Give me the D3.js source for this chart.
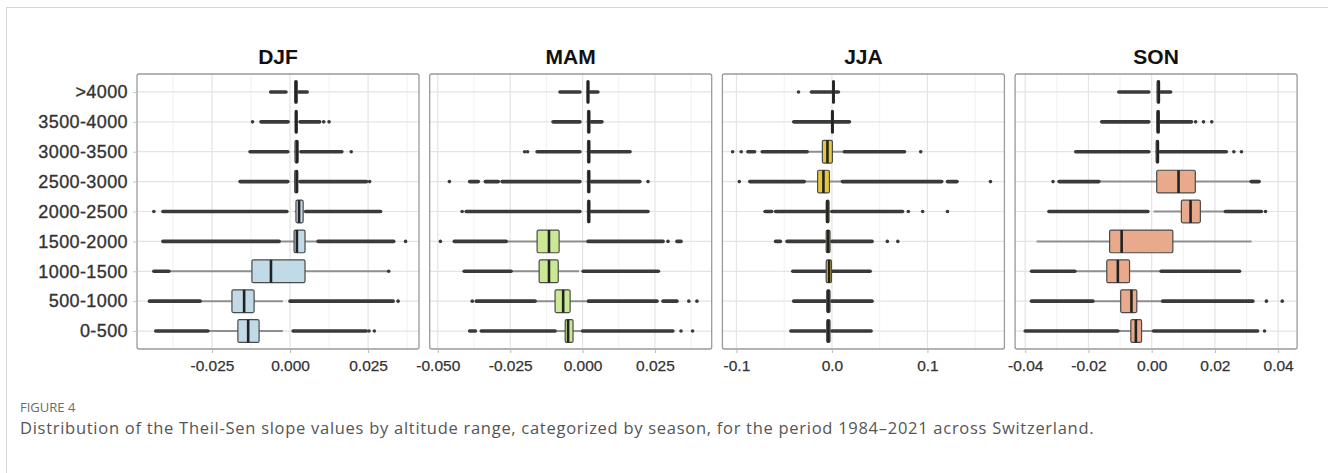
<!DOCTYPE html>
<html>
<head>
<meta charset="utf-8">
<script src="https://cdn.jsdelivr.net/npm/d3@7"></script>
<style>
  body { margin: 0; background: #fff; }
  svg { display: block; }
</style>
</head>
<body>
<svg id="chart" width="1328" height="473"></svg>
<script>
// altitude classes, top to bottom
var categories = [">4000", "3500-4000", "3000-3500", "2500-3000", "2000-2500", "1500-2000", "1000-1500", "500-1000", "0-500"];
var seasons = ["DJF", "MAM", "JJA", "SON"];

// box stats per class: [lower whisker, q1, median, q3, upper whisker]
var djfStats = [
  [0.0013, 0.0015, 0.0019, 0.0023, 0.0026],
  [0.0014, 0.0016, 0.0020, 0.0023, 0.0026],
  [0.0013, 0.0016, 0.0022, 0.0026, 0.0030],
  [0.0012, 0.0015, 0.0021, 0.0025, 0.0029],
  [0.0015, 0.0019, 0.0029, 0.0042, 0.0046],
  [-0.0035, 0.0013, 0.0022, 0.0048, 0.0090],
  [-0.0388, -0.0122, -0.0061, 0.0048, 0.0314],
  [-0.0288, -0.0186, -0.0147, -0.0115, -0.0023],
  [-0.0263, -0.0167, -0.0134, -0.0099, -0.0023]
];
// dense runs of outliers [from, to]
var djfRuns = [
  [[-0.0062, -0.0013], [0.0027, 0.0055]],
  [[-0.0093, -0.0006], [0.0032, 0.0095]],
  [[-0.0128, -0.0007], [0.0035, 0.0166]],
  [[-0.0160, -0.0007], [0.0032, 0.0245]],
  [[-0.0407, -0.0010], [0.0050, 0.0290]],
  [[-0.0407, -0.0035], [0.0090, 0.0332]],
  [[-0.0436, -0.0388]],
  [[-0.0450, -0.0288], [0.0000, 0.0330]],
  [[-0.0430, -0.0263], [0.0010, 0.0244]]
];
var djfDots = [[], [-0.012, 0.0108, 0.0125], [0.0196], [0.0255], [-0.0436], [0.037], [0.0316], [0.0346], [0.0253, 0.027]];

var mamStats = [
  [0.0012, 0.0015, 0.0019, 0.0022, 0.0025],
  [0.0014, 0.0017, 0.0022, 0.0025, 0.0028],
  [0.0014, 0.0017, 0.0022, 0.0025, 0.0028],
  [0.0014, 0.0017, 0.0022, 0.0025, 0.0028],
  [0.0014, 0.0017, 0.0022, 0.0025, 0.0028],
  [-0.0264, -0.0157, -0.0116, -0.0081, 0.0019],
  [-0.0247, -0.0150, -0.0116, -0.0084, -0.0012],
  [-0.0164, -0.0095, -0.0067, -0.0043, 0.0014],
  [-0.0095, -0.0060, -0.0050, -0.0033, 0.0000]
];
var mamRuns = [
  [[-0.0078, -0.0009], [0.0026, 0.0053]],
  [[-0.0102, -0.0009], [0.0030, 0.0067]],
  [[-0.0157, -0.0009], [0.0030, 0.0164]],
  [[-0.0390, -0.0360], [-0.0336, -0.0291], [-0.0278, -0.0009], [0.0030, 0.0198]],
  [[-0.0402, -0.0009], [0.0030, 0.0226]],
  [[-0.0443, -0.0264], [0.0019, 0.0278], [0.0326, 0.0340]],
  [[-0.0409, -0.0247], [0.0002, 0.0257]],
  [[-0.0367, -0.0164], [0.0020, 0.0257], [0.0278, 0.0326]],
  [[-0.0390, -0.0370], [-0.0350, -0.0095], [0.0000, 0.0312]]
];
var mamDots = [[], [], [-0.020, -0.019], [-0.046, 0.0226], [-0.0416], [-0.0491, 0.0295], [0.0262], [-0.0381, 0.0367, 0.0395], [0.034, 0.038]];

var jjaStats = [
  [0.0000, 0.0008, 0.0016, 0.0025, 0.0035],
  [-0.0010, -0.0005, 0.0005, 0.0015, 0.0025],
  [-0.0260, -0.0100, -0.0047, 0.0005, 0.0130],
  [-0.0290, -0.0150, -0.0089, -0.0026, 0.0110],
  [-0.0068, -0.0060, -0.0047, -0.0030, 0.0000],
  [-0.0080, -0.0060, -0.0040, -0.0020, 0.0000],
  [-0.0060, -0.0060, -0.0030, -0.0005, 0.0000],
  [-0.0060, -0.0055, -0.0037, -0.0020, 0.0000],
  [-0.0060, -0.0055, -0.0037, -0.0020, 0.0000]
];
var jjaRuns = [
  [[-0.0215, 0.0000], [0.0037, 0.0068]],
  [[-0.0400, -0.0016], [0.0026, 0.0183]],
  [[-0.088, -0.081], [-0.073, -0.026], [0.013, 0.076]],
  [[-0.086, -0.029], [0.011, 0.115], [0.121, 0.131]],
  [[-0.070, -0.063], [-0.059, -0.0068], [0.000, 0.074]],
  [[-0.059, -0.054], [-0.047, -0.008], [0.000, 0.042]],
  [[-0.041, -0.006], [0.000, 0.040]],
  [[-0.040, -0.006], [0.000, 0.042]],
  [[-0.043, -0.006], [0.000, 0.041]]
];
var jjaDots = [[-0.035], [], [-0.104, -0.095, 0.093], [-0.097, 0.166], [0.080, 0.095, 0.121], [0.058, 0.069], [], [], []];

var sonStats = [
  [0.0015, 0.0017, 0.0022, 0.0025, 0.0027],
  [0.0014, 0.0016, 0.0021, 0.0024, 0.0027],
  [0.0012, 0.0014, 0.0019, 0.0022, 0.0025],
  [-0.0167, 0.0016, 0.0085, 0.0138, 0.0315],
  [0.0006, 0.0094, 0.0123, 0.0154, 0.0233],
  [-0.0364, -0.0133, -0.0095, 0.0067, 0.0316],
  [-0.0243, -0.0142, -0.0107, -0.0070, 0.0030],
  [-0.0186, -0.0098, -0.0064, -0.0047, 0.0035],
  [-0.0107, -0.0066, -0.0050, -0.0032, 0.0006]
];
var sonRuns = [
  [[-0.0104, -0.0009], [0.0028, 0.0060]],
  [[-0.0158, -0.0009], [0.0028, 0.0126]],
  [[-0.0240, -0.0009], [0.0025, 0.0236]],
  [[-0.0293, -0.0167], [0.0315, 0.0340]],
  [[-0.0325, -0.0012], [0.0233, 0.0347]],
  [],
  [[-0.0380, -0.0243], [0.0030, 0.0278]],
  [[-0.0380, -0.0186], [0.0035, 0.0320]],
  [[-0.0400, -0.0107], [0.0006, 0.0335]]
];
var sonDots = [[], [0.0139, 0.0164, 0.019], [0.026, 0.0284], [-0.0312], [0.036], [], [], [0.0363, 0.0413], [0.0357]];

// x axis settings per facet
var djfTicks = [-0.025, 0, 0.025];
var mamTicks = [-0.05, -0.025, 0, 0.025];
var jjaTicks = [-0.1, 0, 0.1];
var sonTicks = [-0.04, -0.02, 0, 0.02, 0.04];

var panels = [
  {name: "DJF", stats: djfStats, runs: djfRuns, dots: djfDots, ticks: djfTicks, domain: [-0.049, 0.0413], fmt: ".3f", fill: "#c0dae7"},
  {name: "MAM", stats: mamStats, runs: mamRuns, dots: mamDots, ticks: mamTicks, domain: [-0.0528, 0.0446], fmt: ".3f", fill: "#cbe995"},
  {name: "JJA", stats: jjaStats, runs: jjaRuns, dots: jjaDots, ticks: jjaTicks, domain: [-0.1147, 0.1806], fmt: ".1f", fill: "#e6c63a"},
  {name: "SON", stats: sonStats, runs: sonRuns, dots: sonDots, ticks: sonTicks, domain: [-0.0432, 0.046], fmt: ".2f", fill: "#e9aa8c"}
];

var svg = d3.select("#chart");
var left0 = 137, panelW = 282, gap = 10.7;
var plotTop = 74, plotBottom = 349;

// outer frame of the figure
svg.append("rect")
  .attr("x", 6.5).attr("y", 7.5)
  .attr("width", 1400).attr("height", 600)
  .attr("fill", "none").attr("stroke", "#d6d6d6");

var y = d3.scalePoint().domain(categories).range([plotTop, plotBottom]).padding(0.6);
var boxH = y.step() * 0.76;

var locale = d3.formatLocale({decimal: ".", thousands: ",", grouping: [3], currency: ["", ""], minus: "-"});

panels.forEach(function(p, i) {
  var x0 = left0 + i * (panelW + gap);
  var x = d3.scaleLinear().domain(p.domain).range([x0, x0 + panelW]);
  var g = svg.append("g");

  // minor grid: midpoints between major ticks
  var step = p.ticks[1] - p.ticks[0];
  var minor = [];
  for (var v = p.ticks[0] - step / 2; v < p.domain[1]; v += step) {
    if (v > p.domain[0]) minor.push(v);
  }
  g.selectAll(".minor").data(minor).enter().append("line")
    .attr("x1", d => x(d)).attr("x2", d => x(d))
    .attr("y1", plotTop).attr("y2", plotBottom)
    .attr("stroke", "#f1f1f1").attr("stroke-width", 1);
  g.selectAll(".major").data(p.ticks).enter().append("line")
    .attr("x1", d => x(d)).attr("x2", d => x(d))
    .attr("y1", plotTop).attr("y2", plotBottom)
    .attr("stroke", "#e4e4e4").attr("stroke-width", 1.2);
  g.selectAll(".hgrid").data(categories).enter().append("line")
    .attr("x1", x0).attr("x2", x0 + panelW)
    .attr("y1", d => y(d)).attr("y2", d => y(d))
    .attr("stroke", "#e4e4e4").attr("stroke-width", 1.2);

  var rows = g.selectAll(".row").data(categories).enter().append("g");

  // whiskers
  rows.append("line")
    .attr("x1", (d, k) => x(p.stats[k][0])).attr("x2", (d, k) => x(p.stats[k][4]))
    .attr("y1", d => y(d)).attr("y2", d => y(d))
    .attr("stroke", "#8f8f8f").attr("stroke-width", 2);

  // dense outlier runs
  rows.each(function(d, k) {
    var r = d3.select(this);
    r.selectAll(".run").data(p.runs[k]).enter().append("line")
      .attr("x1", s => x(s[0])).attr("x2", s => x(s[1]))
      .attr("y1", y(d)).attr("y2", y(d))
      .attr("stroke", "#3a3a3a").attr("stroke-width", 3.6).attr("stroke-linecap", "round");
    r.selectAll(".dot").data(p.dots[k]).enter().append("circle")
      .attr("cx", s => x(s)).attr("cy", y(d)).attr("r", 1.8)
      .attr("fill", "#3a3a3a");
  });

  // boxes
  rows.append("rect")
    .attr("x", (d, k) => x(p.stats[k][1]))
    .attr("width", (d, k) => Math.max(1.5, x(p.stats[k][3]) - x(p.stats[k][1])))
    .attr("y", d => y(d) - boxH / 2).attr("height", boxH)
    .attr("rx", 1.5)
    .attr("fill", p.fill).attr("stroke", "#4a4a4a").attr("stroke-width", 1.2);
  // medians
  rows.append("line")
    .attr("x1", (d, k) => x(p.stats[k][2])).attr("x2", (d, k) => x(p.stats[k][2]))
    .attr("y1", d => y(d) - boxH / 2).attr("y2", d => y(d) + boxH / 2)
    .attr("stroke", "#222").attr("stroke-width", 2.6);

  // panel border
  g.append("rect")
    .attr("x", x0).attr("y", plotTop).attr("width", panelW).attr("height", plotBottom - plotTop)
    .attr("rx", 2)
    .attr("fill", "none").attr("stroke", "#9a9a9a").attr("stroke-width", 1.3);

  // facet title
  g.append("text")
    .attr("x", x0 + panelW / 2).attr("y", 64)
    .attr("text-anchor", "middle")
    .attr("font-family", "Liberation Sans, Arial, sans-serif")
    .attr("font-weight", "bold").attr("font-size", 21)
    .attr("fill", "#111")
    .text(p.name);

  // x axis
  var fmt = locale.format(p.fmt);
  var ax = g.append("g")
    .attr("transform", "translate(0," + plotBottom + ")")
    .call(d3.axisBottom(x).tickValues(p.ticks).tickFormat(fmt).tickSize(4).tickPadding(7));
  ax.select(".domain").remove();
  ax.selectAll("line").attr("stroke", "#bbb");
  ax.selectAll("text")
    .attr("font-family", "Liberation Sans, Arial, sans-serif")
    .attr("font-size", 15.5).attr("fill", "#333")
    .attr("stroke", "#333").attr("stroke-width", 0.25);

  if (i === 0) {
    var ay = g.append("g")
      .attr("transform", "translate(" + x0 + ",0)")
      .call(d3.axisLeft(y).tickSize(4).tickPadding(5));
    ay.select(".domain").remove();
    ay.selectAll("line").attr("stroke", "#b9cbd8");
    ay.selectAll("text")
      .attr("font-family", "Liberation Sans, Arial, sans-serif")
      .attr("font-size", 18).attr("letter-spacing", 0.4).attr("fill", "#333")
      .attr("stroke", "#333").attr("stroke-width", 0.35);
  }
});

// caption
svg.append("text")
  .attr("x", 20).attr("y", 412)
  .attr("font-family", "Open Sans, sans-serif")
  .attr("font-size", 13).attr("fill", "#6b6b6b")
  .text("FIGURE 4");
svg.append("text")
  .attr("x", 20).attr("y", 434)
  .attr("font-family", "Open Sans, sans-serif")
  .attr("font-size", 16.5).attr("letter-spacing", 0.72).attr("fill", "#555")
  .text("Distribution of the Theil-Sen slope values by altitude range, categorized by season, for the period 1984\u20132021 across Switzerland.");
</script>
</body>
</html>
